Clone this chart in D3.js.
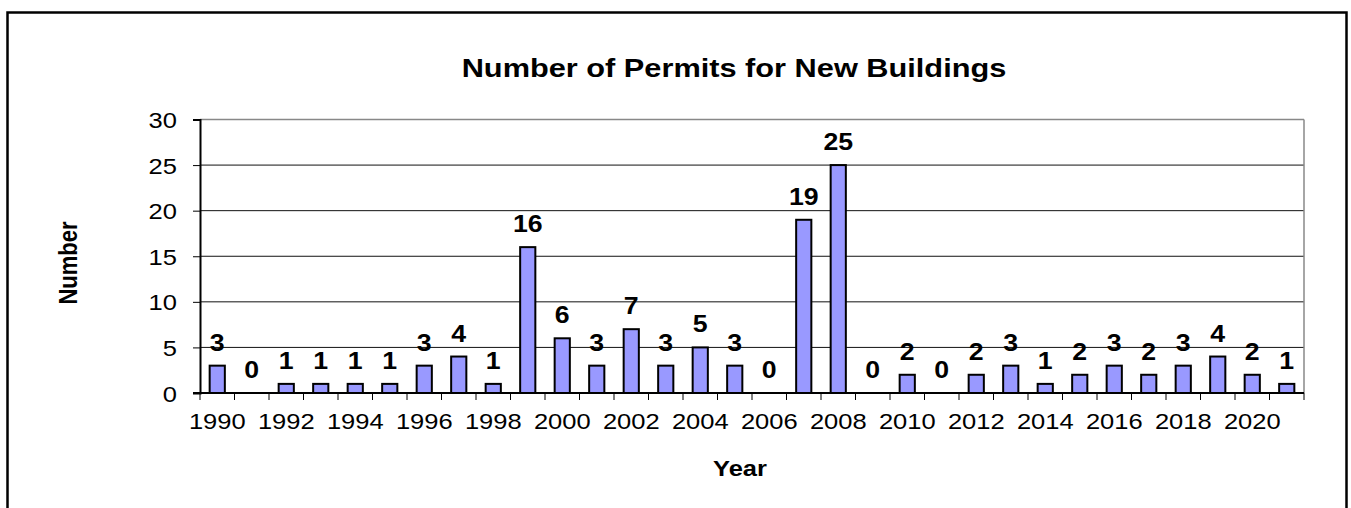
<!DOCTYPE html>
<html>
<head>
<meta charset="utf-8">
<script src="https://cdn.jsdelivr.net/npm/d3@7"></script>
<style>
  body { margin: 0; background: #fff; }
  text { font-family: Arial, "Liberation Sans", sans-serif; fill: #000; }
</style>
</head>
<body>
<svg></svg>
<script>
// chart data
const years = [1990, 1991, 1992, 1993, 1994, 1995, 1996, 1997, 1998, 1999,
  2000, 2001, 2002, 2003, 2004, 2005, 2006, 2007, 2008, 2009,
  2010, 2011, 2012, 2013, 2014, 2015, 2016, 2017, 2018, 2019,
  2020, 2021];
const permits = [3, 0, 1, 1, 1, 1, 3, 4, 1, 16,
  6, 3, 7, 3, 5, 3, 0, 19, 25, 0,
  2, 0, 2, 3, 1, 2, 3, 2, 3, 4,
  2, 1];
const yTicks = [0, 5, 10, 15, 20, 25, 30];
const xLabelYears = [1990, 1992, 1994, 1996, 1998, 2000, 2002, 2004, 2006, 2008,
  2010, 2012, 2014, 2016, 2018, 2020];

const width = 1351;
const height = 508;
const sx = 1.16; // the picture is a bit wider than it is tall, so stretch text

const svg = d3.select('svg').attr('width', width).attr('height', height);

// outer frame (bottom runs off the picture)
svg.append('rect')
  .attr('x', 7.5).attr('y', 12.5)
  .attr('width', 1339).attr('height', 520)
  .attr('fill', 'none').attr('stroke', '#000').attr('stroke-width', 2.5);

const plot = { left: 200, right: 1304, top: 119.5, bottom: 393 };

const x = d3.scaleBand()
  .domain(years)
  .range([plot.left, plot.right])
  .paddingInner(0.56)
  .paddingOuter(0.28);

const y = d3.scaleLinear()
  .domain([0, 30])
  .range([plot.bottom, plot.top]);

// gridlines
svg.append('g')
  .selectAll('line')
  .data(yTicks.filter(d => d > 0))
  .enter()
  .append('line')
  .attr('x1', plot.left).attr('x2', plot.right)
  .attr('y1', d => y(d)).attr('y2', d => y(d))
  .attr('stroke', d => (d === 30 ? '#888' : '#111'))
  .attr('stroke-width', d => (d === 30 ? 1.5 : 1));

// right border of plot area
svg.append('line')
  .attr('x1', plot.right).attr('x2', plot.right)
  .attr('y1', plot.top).attr('y2', plot.bottom)
  .attr('stroke', '#888').attr('stroke-width', 1.5);

// bars
svg.append('g')
  .selectAll('rect')
  .data(years)
  .enter()
  .append('rect')
  .attr('x', d => x(d))
  .attr('width', x.bandwidth())
  .attr('y', (d, i) => y(permits[i]))
  .attr('height', (d, i) => y(0) - y(permits[i]))
  .attr('fill', '#9999ff')
  .attr('stroke', '#000')
  .attr('stroke-width', 2);

// value labels
svg.append('g')
  .selectAll('text')
  .data(years)
  .enter()
  .append('text')
  .attr('transform', (d, i) => `translate(${x(d) + x.bandwidth() / 2},${y(permits[i]) - 15}) scale(${sx},1)`)
  .attr('text-anchor', 'middle')
  .style('font-size', '23px')
  .style('font-weight', 'bold')
  .text((d, i) => permits[i]);

// y axis
const yAxis = svg.append('g')
  .attr('transform', `translate(${plot.left},0)`)
  .call(d3.axisLeft(y).tickValues(yTicks).tickSize(7).tickPadding(0));
yAxis.select('.domain').attr('stroke', '#000').attr('stroke-width', 2);
yAxis.selectAll('.tick line').attr('stroke', '#000');
yAxis.selectAll('.tick text')
  .attr('x', null).attr('dy', null)
  .attr('transform', `translate(-23,8) scale(${sx},1)`)
  .style('font-size', '22px');

// x axis: labels on every other year, ticks between categories
const xAxis = svg.append('g')
  .attr('transform', `translate(0,${plot.bottom})`)
  .call(d3.axisBottom(x).tickValues(xLabelYears).tickSize(0).tickPadding(0));
xAxis.select('.domain').remove();
xAxis.selectAll('.tick text')
  .attr('y', null).attr('dy', null)
  .attr('transform', `translate(0,36) scale(${sx},1)`)
  .style('font-size', '22px');

const gap = (x.step() - x.bandwidth()) / 2;
const bounds = years.map(d => x(d) - gap).concat([plot.right]);
svg.append('g')
  .selectAll('line')
  .data(bounds)
  .enter()
  .append('line')
  .attr('x1', d => d).attr('x2', d => d)
  .attr('y1', plot.bottom).attr('y2', plot.bottom + 7)
  .attr('stroke', '#000').attr('stroke-width', 1);

svg.append('line')
  .attr('x1', plot.left - 7).attr('x2', plot.right)
  .attr('y1', plot.bottom).attr('y2', plot.bottom)
  .attr('stroke', '#000').attr('stroke-width', 2);

// titles
svg.append('text')
  .attr('transform', `translate(734,77) scale(${sx},1)`)
  .attr('text-anchor', 'middle')
  .style('font-size', '26.5px')
  .style('font-weight', 'bold')
  .text('Number of Permits for New Buildings');

svg.append('text')
  .attr('transform', `translate(740,476) scale(${sx},1)`)
  .attr('text-anchor', 'middle')
  .style('font-size', '22px')
  .style('font-weight', 'bold')
  .text('Year');

svg.append('text')
  .attr('transform', `translate(77,263) rotate(-90) scale(1,${sx})`)
  .attr('text-anchor', 'middle')
  .style('font-size', '22px')
  .style('font-weight', 'bold')
  .text('Number');
</script>
</body>
</html>
